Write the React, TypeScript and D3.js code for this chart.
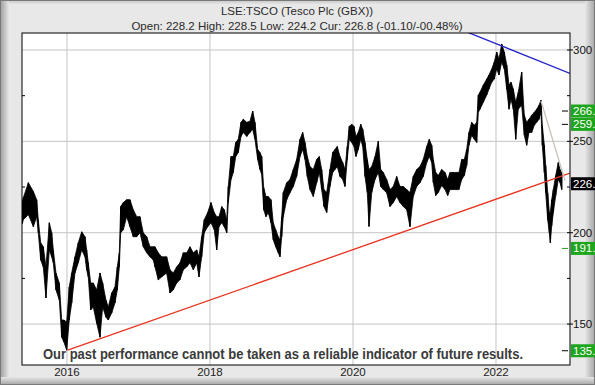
import React from 'react'
import * as d3 from 'd3'

const dates = [
  2015.375, 2015.39, 2015.46, 2015.53, 2015.576, 2015.599, 2015.632, 2015.669, 2015.706, 2015.753,
  2015.786, 2015.809, 2015.846, 2015.893, 2015.926, 2015.958, 2015.996, 2016.032, 2016.066, 2016.112,
  2016.158, 2016.206, 2016.252, 2016.275, 2016.298, 2016.331, 2016.368, 2016.415, 2016.462, 2016.499,
  2016.545, 2016.578, 2016.625, 2016.671, 2016.704, 2016.732, 2016.751, 2016.788, 2016.835, 2016.881,
  2016.927, 2016.975, 2017.021, 2017.067, 2017.115, 2017.161, 2017.207, 2017.231, 2017.277, 2017.324,
  2017.394, 2017.441, 2017.487, 2017.534, 2017.58, 2017.627, 2017.674, 2017.72, 2017.767, 2017.814,
  2017.846, 2017.884, 2017.92, 2017.968, 2018.014, 2018.06, 2018.094, 2018.126, 2018.164, 2018.2,
  2018.234, 2018.256, 2018.294, 2018.326, 2018.36, 2018.396, 2018.434, 2018.466, 2018.514, 2018.56,
  2018.597, 2018.629, 2018.667, 2018.699, 2018.723, 2018.751, 2018.783, 2018.815, 2018.853, 2018.885,
  2018.919, 2018.955, 2018.979, 2019.003, 2019.025, 2019.073, 2019.119, 2019.165, 2019.212, 2019.259,
  2019.296, 2019.329, 2019.361, 2019.399, 2019.445, 2019.492, 2019.529, 2019.562, 2019.594, 2019.632,
  2019.678, 2019.716, 2019.748, 2019.78, 2019.818, 2019.856, 2019.888, 2019.92, 2019.948, 2019.982,
  2020.014, 2020.042, 2020.074, 2020.108, 2020.136, 2020.168, 2020.2, 2020.224, 2020.262, 2020.308,
  2020.354, 2020.388, 2020.424, 2020.471, 2020.518, 2020.564, 2020.611, 2020.657, 2020.704, 2020.751,
  2020.797, 2020.843, 2020.891, 2020.937, 2020.983, 2021.031, 2021.067, 2021.101, 2021.123, 2021.157,
  2021.193, 2021.24, 2021.287, 2021.324, 2021.357, 2021.403, 2021.45, 2021.482, 2021.52, 2021.557,
  2021.59, 2021.622, 2021.66, 2021.697, 2021.73, 2021.753, 2021.776, 2021.823, 2021.87, 2021.902,
  2021.94, 2021.976, 2022.01, 2022.042, 2022.08, 2022.116, 2022.15, 2022.182, 2022.21, 2022.242,
  2022.276, 2022.312, 2022.359, 2022.396, 2022.429, 2022.462, 2022.499, 2022.536, 2022.569, 2022.602,
  2022.629, 2022.648, 2022.676, 2022.695, 2022.723, 2022.746, 2022.76, 2022.779, 2022.802, 2022.835,
  2022.871, 2022.895, 2022.919,
]

const highs = [
  217, 219.2, 227.4, 222.5, 218.1, 207.1, 194.5, 192.3, 181.3, 205.5,
  200, 190.6, 178, 172.5, 152.2, 152.2, 151.1, 170.3, 178, 186.8,
  194.5, 200.5, 197.8, 190.6, 183.5, 172.5, 172.5, 168.7, 178, 172.5,
  163.2, 159.3, 167, 170.3, 181.3, 189, 214.3, 216.5, 218.1, 218.1,
  212.6, 208.8, 208.8, 200, 197.8, 192.3, 192.3, 192.3, 189, 186.8,
  186.8, 179.7, 178, 181.3, 183.5, 189, 189, 192.3, 189, 190.6,
  186.8, 197.8, 207.1, 211, 216.5, 211, 208.8, 208.8, 214.3, 212.6,
  207.1, 225.3, 241.7, 241.7, 249.4, 251.1, 260.4, 262.1, 260.4, 261,
  266.6, 260.4, 245.6, 243.9, 241.7, 224.7, 219.8, 219.8, 218.1, 205.5,
  201.6, 197.8, 196.1, 208.8, 222, 227.4, 229.1, 234.6, 240.1, 251.1,
  254.9, 249.4, 241.7, 236.2, 234.6, 240.1, 241.7, 234.6, 223.6, 222,
  234.6, 243.9, 245.6, 247.2, 241.7, 238.4, 234.6, 247.2, 258.2, 259.3,
  258.2, 252.7, 254.9, 259.3, 256.6, 249.4, 240.1, 234.6, 236.2, 241.7,
  250.1, 234.6, 233, 229.1, 223.6, 225.3, 230.8, 225.3, 225.3, 223.6,
  222, 230.8, 234.6, 236.2, 240.1, 247.2, 251.1, 247.8, 240.1, 233,
  231.3, 234.6, 233, 229.1, 233, 233, 233, 233, 240.1, 240.1,
  245.6, 254.9, 260.4, 258.8, 260.4, 275.3, 276.9, 280.8, 284.1, 286.3,
  289.6, 293.4, 298.9, 295.1, 303.3, 298.9, 291.8, 280.8, 282.4, 278.6,
  271.4, 276.9, 287.9, 264.3, 260.4, 262.1, 264.3, 265.9, 267.6, 269.8,
  272.5, 258.8, 247.8, 236.8, 221.9, 211, 211, 218.1, 223.6, 231.3,
  238.4, 234.6, 233,
]

const lows = [
  205, 207.1, 209.9, 203.3, 208.8, 200, 185.1, 181.3, 164.3, 190.6,
  186.8, 183.5, 168.7, 163.2, 142.8, 140.1, 135.7, 152.2, 161.5, 178,
  183.5, 190.6, 186.8, 179.7, 175.8, 157.7, 159.3, 150.5, 142.8, 159.3,
  153.8, 152.2, 156, 161.5, 168.7, 181.3, 200, 201.6, 208.8, 203.3,
  197.8, 197.8, 200, 192.3, 189, 186.8, 185.1, 181.3, 174.2, 175.8,
  178, 167, 168.7, 172.5, 174.2, 179.7, 181.3, 183.5, 179.7, 183.5,
  175.8, 186.8, 200, 203.3, 205.5, 201.6, 190.6, 203.3, 205.5, 203.3,
  200, 216.5, 229.1, 233, 241.7, 243.9, 252.7, 254.9, 252.7, 254.9,
  256.6, 251.1, 240.1, 234.6, 231.9, 212.6, 208.8, 211, 205.5, 196.1,
  192.3, 189, 186.8, 197.8, 208.8, 218.1, 221.9, 225.3, 230.8, 241.7,
  245.6, 240.1, 230.8, 223.6, 219.8, 227.4, 233, 223.6, 214.3, 211,
  225.3, 233, 234.6, 236.2, 230.8, 229.1, 225.3, 240.1, 251.1, 249.4,
  247.2, 241.7, 245.6, 251.1, 247.2, 230.8, 222, 203.4, 222, 229.1,
  233, 225.3, 223.6, 221.9, 214.3, 216.5, 219.8, 216.5, 214.3, 212.6,
  203.3, 219.8, 225.3, 227.4, 230.8, 238.4, 241.7, 238.4, 227.5, 220.3,
  222, 225.8, 223.6, 220.3, 223.6, 223.6, 223.6, 223.6, 229.1, 231.3,
  236.8, 247.8, 253.3, 251.1, 249.4, 265.9, 267.6, 271.4, 275.3, 278.6,
  282.4, 284.1, 289.6, 286.3, 293.4, 289.6, 278.6, 267.6, 273.1, 267.6,
  251.1, 267.6, 269.8, 253.3, 247.8, 254.9, 254.9, 258.8, 260.4, 262.1,
  265.9, 247.8, 233, 221.9, 207.1, 200, 194.5, 203.8, 211, 220.3,
  229.1, 227.5, 223.6,
]

const yearTicks = [2016, 2018, 2020, 2022]
const gridValues = [150, 200, 250, 300]
const minorValues = [175, 225, 275]

// trend lines: [year, price]
const supportLine: [number, number][] = [[2016.01, 135.7], [2023.035, 232.6]]
const resistLine: [number, number][] = [[2021.59, 309.9], [2023.035, 287.2]]
const fadeLine: [number, number][] = [[2022.629, 272.1], [2022.965, 228.6]]

// price markers on right axis
const greenLevels = [
  { value: 266.6, label: '266.' },
  { value: 259.3, label: '259.' },
  { value: 191.4, label: '191.' },
  { value: 135.4, label: '135.' },
]
const currentLevel = { value: 226.8, label: '226.' }

const W = 595
const H = 385
const plot = { left: 22, right: 570, top: 33, bottom: 365 }
const FONT = "'Liberation Sans', Arial, sans-serif"

export default function App() {
  const x = d3.scaleLinear().domain([2015.371, 2023.035]).range([plot.left, plot.right])
  const y = d3.scaleLinear().domain([127.6, 309.3]).range([plot.bottom, plot.top])

  const band = dates.map((d, i) => ({ d, hi: highs[i], lo: lows[i] }))
  const area = d3.area<{ d: number; hi: number; lo: number }>()
    .x(p => x(p.d))
    .y0(p => y(p.lo))
    .y1(p => y(p.hi))
  const line = d3.line<[number, number]>().x(p => x(p[0])).y(p => y(p[1]))

  return (
    <div style={{ position: 'fixed', left: 0, top: 0 }}>
      <svg width={W} height={H} style={{ display: 'block' }}>
        <defs>
          <linearGradient id="lg" x1="0" x2="1" y1="0" y2="0">
            <stop offset="0" stopColor="#9c9c9c" />
            <stop offset="1" stopColor="#e6e6e6" />
          </linearGradient>
          <linearGradient id="rg" x1="0" x2="1" y1="0" y2="0">
            <stop offset="0" stopColor="#e6e6e6" />
            <stop offset="1" stopColor="#a4a4a4" />
          </linearGradient>
          <linearGradient id="bg" x1="0" x2="0" y1="0" y2="1">
            <stop offset="0" stopColor="#e6e6e6" />
            <stop offset="1" stopColor="#a4a4a4" />
          </linearGradient>
          <linearGradient id="tg" x1="0" x2="0" y1="0" y2="1">
            <stop offset="0" stopColor="#c4c4c4" />
            <stop offset="1" stopColor="#ececec" />
          </linearGradient>
          <clipPath id="pc">
            <rect x={plot.left} y={plot.top} width={plot.right - plot.left} height={plot.bottom - plot.top} />
          </clipPath>
        </defs>

        {/* frame */}
        <rect x={0} y={0} width={W} height={H} fill="#e8e8e8" />
        <rect x={0} y={0} width={W} height={5} fill="url(#tg)" />
        <rect x={0} y={0} width={9} height={H} fill="url(#lg)" />
        <rect x={W - 10} y={0} width={10} height={H} fill="url(#rg)" />
        <rect x={0} y={H - 8} width={W} height={8} fill="url(#bg)" />
        <rect x={0.5} y={0.5} width={W - 1} height={H - 1} fill="none" stroke="#7a7a7a" />

        {/* title */}
        <text x={297} y={15} textAnchor="middle" fontFamily={FONT} fontSize={11.5} fill="#2a2a2a">
          LSE:TSCO (Tesco Plc (GBX))
        </text>
        <text x={297} y={29.5} textAnchor="middle" fontFamily={FONT} fontSize={11.5} fill="#2a2a2a">
          Open: 228.2 High: 228.5 Low: 224.2 Cur: 226.8 (-01.10/-00.48%)
        </text>

        {/* plot */}
        <rect x={plot.left} y={plot.top} width={plot.right - plot.left} height={plot.bottom - plot.top} fill="#fff" />
        {gridValues.map(v => (
          <line key={'h' + v} x1={plot.left} x2={plot.right} y1={y(v)} y2={y(v)} stroke="#c4c4c4" />
        ))}
        {yearTicks.map(t => (
          <line key={'v' + t} x1={x(t)} x2={x(t)} y1={plot.top} y2={plot.bottom} stroke="#c4c4c4" />
        ))}

        <g clipPath="url(#pc)">
          <path d={area(band) || ''} fill="#000" stroke="#000" strokeWidth={0.8} />
          {band.map((p, i) => (
            <line key={i} x1={x(p.d)} x2={x(p.d)} y1={y(p.hi)} y2={y(p.lo)} stroke="#000" strokeWidth={1.3} />
          ))}
          <path d={line(supportLine) || ''} fill="none" stroke="#e8321e" strokeWidth={1.3} />
          <path d={line(resistLine) || ''} fill="none" stroke="#2424c8" strokeWidth={1.3} />
          <path d={line(fadeLine) || ''} fill="none" stroke="#c8c2b8" strokeWidth={1.3} />
        </g>

        {/* disclaimer */}
        <text x={43} y={359} fontFamily={FONT} fontSize={14} fontWeight="bold" fill="#3a3a3a"
          textLength={480} lengthAdjust="spacingAndGlyphs">
          Our past performance cannot be taken as a reliable indicator of future results.
        </text>

        <rect x={plot.left} y={plot.top} width={plot.right - plot.left} height={plot.bottom - plot.top}
          fill="none" stroke="#000" />

        {/* minor ticks */}
        {minorValues.map(v => (
          <g key={'m' + v}>
            <line x1={plot.left} x2={plot.left + 3} y1={y(v)} y2={y(v)} stroke="#000" />
            <line x1={plot.right - 3} x2={plot.right} y1={y(v)} y2={y(v)} stroke="#000" />
          </g>
        ))}
        {gridValues.map(v => (
          <g key={'r' + v}>
            <line x1={plot.right - 3} x2={plot.right + 3} y1={y(v)} y2={y(v)} stroke="#000" />
            <text x={plot.right + 3} y={y(v) + 4} fontFamily={FONT} fontSize={11.5} fill="#111">{v}</text>
          </g>
        ))}

        {/* x labels */}
        {yearTicks.map(t => (
          <text key={'xl' + t} x={x(t)} y={376} textAnchor="middle" fontFamily={FONT} fontSize={11.5} fill="#222">
            {t}
          </text>
        ))}

        {/* level markers */}
        {greenLevels.map(l => (
          <g key={l.label}>
            <line x1={plot.right - 8} x2={plot.right - 2} y1={y(l.value)} y2={y(l.value)}
              stroke={l.value < 200 && l.value > 150 ? '#1ea51e' : '#000'} />
            <rect x={plot.right + 1} y={y(l.value) - 6.5} width={30} height={13} fill="#1ea51e" />
            <text x={plot.right + 3} y={y(l.value) + 4} fontFamily={FONT} fontSize={11.5} fill="#fff">{l.label}</text>
          </g>
        ))}
        <rect x={plot.right + 1} y={y(currentLevel.value) - 6.5} width={30} height={13} fill="#000" />
        <text x={plot.right + 3} y={y(currentLevel.value) + 4} fontFamily={FONT} fontSize={11.5} fill="#fff">
          {currentLevel.label}
        </text>
      </svg>
    </div>
  )
}
